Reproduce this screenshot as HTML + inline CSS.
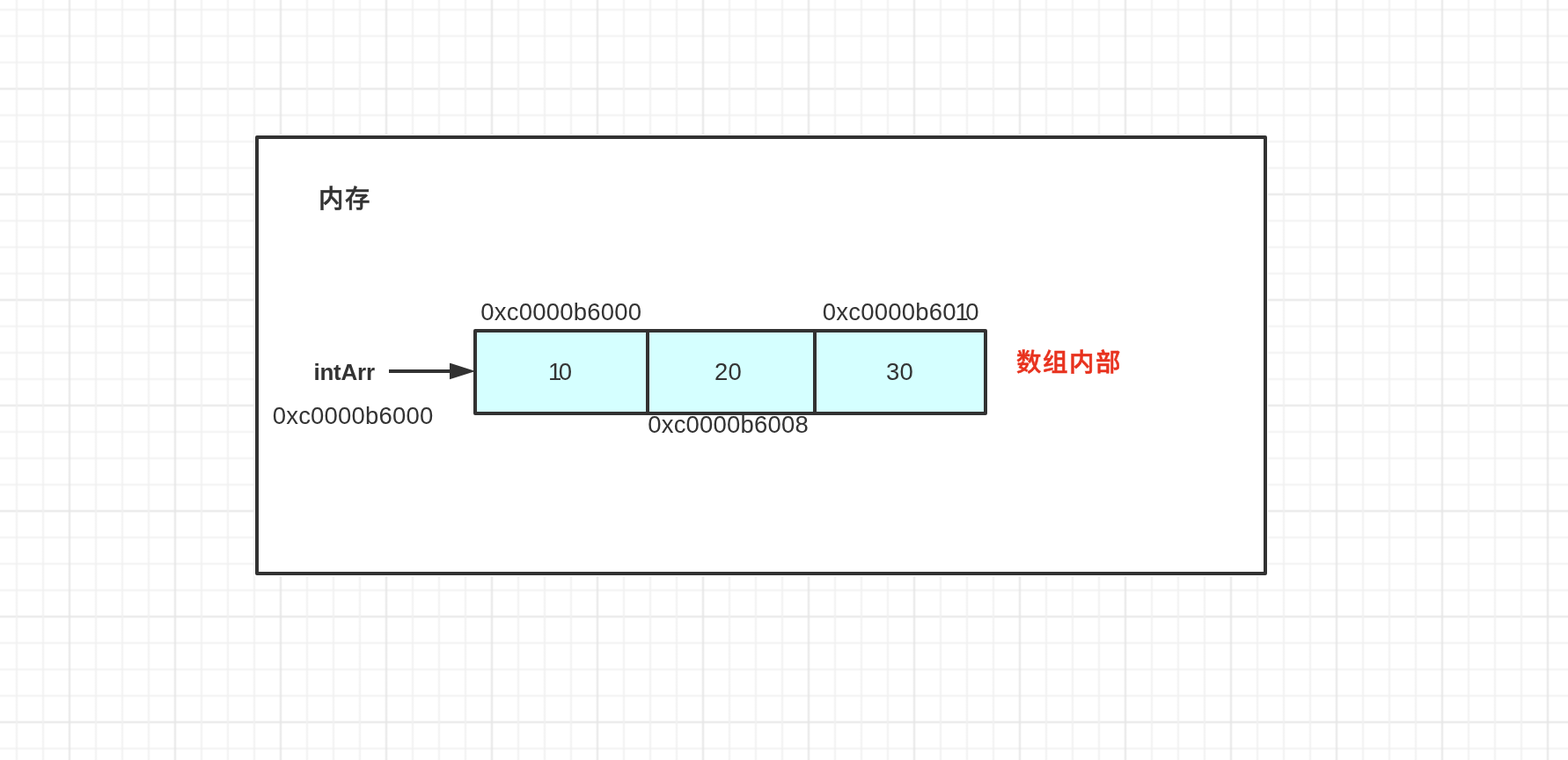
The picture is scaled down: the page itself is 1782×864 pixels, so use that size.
<!DOCTYPE html>
<html lang="zh-CN">
<head>
<meta charset="utf-8">
<title>内存 - intArr</title>
<style>
html,body{margin:0;padding:0;}
body{width:1782px;height:864px;overflow:hidden;background:#fff;position:relative;
  font-family:"Liberation Sans","Noto Sans CJK SC",sans-serif;}
#grid{position:absolute;left:0;top:0;width:1782px;height:864px;
  background-color:#fff;
  background-image:
    linear-gradient(to right,rgba(230,230,230,0.24) 0px,rgba(230,230,230,0.24) 1px,rgba(230,230,230,0.75) 1px,rgba(230,230,230,0.75) 3px,rgba(230,230,230,0.24) 3px,rgba(230,230,230,0.24) 4px,transparent 4px,transparent 30px,rgba(241,241,241,0.22) 30px,rgba(241,241,241,0.22) 31px,rgba(241,241,241,0.74) 31px,rgba(241,241,241,0.74) 33px,rgba(241,241,241,0.22) 33px,rgba(241,241,241,0.22) 34px,transparent 34px,transparent 60px,rgba(241,241,241,0.22) 60px,rgba(241,241,241,0.22) 61px,rgba(241,241,241,0.74) 61px,rgba(241,241,241,0.74) 63px,rgba(241,241,241,0.22) 63px,rgba(241,241,241,0.22) 64px,transparent 64px,transparent 90px,rgba(241,241,241,0.22) 90px,rgba(241,241,241,0.22) 91px,rgba(241,241,241,0.74) 91px,rgba(241,241,241,0.74) 93px,rgba(241,241,241,0.22) 93px,rgba(241,241,241,0.22) 94px,transparent 94px,transparent 120px),
    linear-gradient(to bottom,#f9f9f9 0px,#f9f9f9 1px,#ececec 1px,#ececec 3px,#f9f9f9 3px,#f9f9f9 4px,#ffffff 4px,#ffffff 30px,#fcfcfc 30px,#fcfcfc 31px,#f5f5f5 31px,#f5f5f5 33px,#fcfcfc 33px,#fcfcfc 34px,#ffffff 34px,#ffffff 60px,#fcfcfc 60px,#fcfcfc 61px,#f5f5f5 61px,#f5f5f5 63px,#fcfcfc 63px,#fcfcfc 64px,#ffffff 64px,#ffffff 90px,#fcfcfc 90px,#fcfcfc 91px,#f5f5f5 91px,#f5f5f5 93px,#fcfcfc 93px,#fcfcfc 94px,#ffffff 94px,#ffffff 120px);
  background-size:120px 120px,120px 120px;
  background-position:77px 0,0 99px;
}
#halo{position:absolute;left:289px;top:153px;width:1152px;height:502px;background:#fff;}
svg{position:absolute;left:0;top:0;}
#txt{position:absolute;left:0;top:0;width:1782px;height:864px;will-change:transform;}
.t{position:absolute;white-space:nowrap;color:#333;line-height:1;transform-origin:0 0;}
.n{font-size:27.5px;letter-spacing:0.2px;}
svg text{font-family:"Liberation Sans","Noto Sans CJK SC",sans-serif;font-size:27.5px;letter-spacing:0.2px;fill:#333;}
.b{font-weight:bold;}
.m{font-weight:500;-webkit-text-stroke:0.5px currentColor;}
</style>
</head>
<body>
<div id="grid"></div>
<div id="halo"></div>
<svg width="1782" height="864" viewBox="0 0 1782 864">
  <rect x="292" y="156" width="1146" height="496" fill="#ffffff" stroke="#323232" stroke-width="4" stroke-linejoin="round"/>
  <rect x="540" y="376" width="196" height="94" fill="#d5ffff" stroke="#323232" stroke-width="4" stroke-linejoin="round"/>
  <rect x="736" y="376" width="190" height="94" fill="#d5ffff" stroke="#323232" stroke-width="4" stroke-linejoin="round"/>
  <rect x="926" y="376" width="194" height="94" fill="#d5ffff" stroke="#323232" stroke-width="4" stroke-linejoin="round"/>
  <line x1="442" y1="422" x2="514" y2="422" stroke="#323232" stroke-width="4"/>
  <path d="M512 414 L537 422 L512 430 Z" fill="#323232" stroke="#323232" stroke-width="2" stroke-linejoin="miter"/>
</svg>
<div id="txt">
<div class="t m" id="t1" style="left:362px;top:212px;font-size:28.5px;letter-spacing:1.5px;">内存</div>
<div class="t n" id="t2" style="left:546.3px;top:341px;">0xc0000b6000</div>
<div class="t b" id="t4" style="left:356.5px;top:410px;font-size:26px;letter-spacing:-0.25px;">intArr</div>
<div class="t n" id="t5" style="left:309.7px;top:459px;">0xc0000b6000</div>
<div class="t n" id="t6" style="left:736.2px;top:469px;">0xc0000b6008</div>
<div class="t n" id="t8" style="left:812px;top:409px;">20</div>
<div class="t n" id="t9" style="left:1007px;top:409px;">30</div>
<div class="t m" id="t10" style="left:1155px;top:398px;font-size:28.5px;letter-spacing:1.5px;color:#e8321e;">数组内部</div>
<svg width="1782" height="864" viewBox="0 0 1782 864">
  <text id="t3" x="934.8" y="364" dx="0 0 0 0 0 0 0 0 0 0 -1.2 -3.8">0xc0000b6010</text>
  <text id="t7" x="623" y="432" dx="0 -3.8">10</text>
</svg>
</div>
</body>
</html>
